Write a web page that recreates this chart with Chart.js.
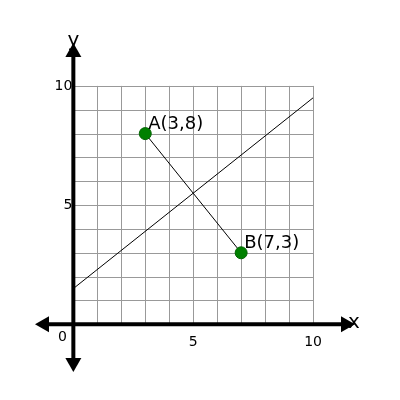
<!DOCTYPE html>
<html>
<head>
<script src="https://cdn.jsdelivr.net/npm/chart.js@4"></script>
<style>html,body{margin:0;padding:0;background:#fff}</style>
</head>
<body>
<canvas id="theChart" width="400" height="400"></canvas>
<script>
let ctx = document.getElementById("theChart").getContext("2d");

const pointNames = ["A(3,8)", "B(7,3)"]
const pointX = [3, 7]
const pointY = [8, 3]
const lineX = [0, 10]
const lineY = [1.5, 9.5]
const tickValues = [5, 10]

// grid, axes with arrows, tick labels
const axesPlugin = {
  id: "axesPlugin",
  beforeDatasetsDraw(chart) {
    const c = chart.ctx, xs = chart.scales.x, ys = chart.scales.y
    const a = chart.chartArea
    c.save()
    c.strokeStyle = "#999"
    c.lineWidth = 1
    for (let i = 0; i <= 10; i++) {
      let px = Math.round(xs.getPixelForValue(i)) + 0.5
      let py = Math.round(ys.getPixelForValue(i)) + 0.5
      c.beginPath(); c.moveTo(px, ys.getPixelForValue(0)); c.lineTo(px, ys.getPixelForValue(10)); c.stroke()
      c.beginPath(); c.moveTo(xs.getPixelForValue(0), py); c.lineTo(xs.getPixelForValue(10), py); c.stroke()
    }
    const ox = xs.getPixelForValue(0), oy = ys.getPixelForValue(0)
    c.strokeStyle = "#000"; c.fillStyle = "#000"; c.lineWidth = 4
    c.beginPath(); c.moveTo(a.left + 8, oy); c.lineTo(a.right - 8, oy); c.stroke()
    c.beginPath(); c.moveTo(ox, a.top + 8); c.lineTo(ox, a.bottom - 8); c.stroke()
    const head = (x, y, dx, dy) => {
      c.beginPath()
      c.moveTo(x, y)
      c.lineTo(x - dx * 14 - dy * 8, y - dy * 14 - dx * 8)
      c.lineTo(x - dx * 14 + dy * 8, y - dy * 14 + dx * 8)
      c.closePath(); c.fill()
    }
    head(a.left, oy, -1, 0); head(a.right, oy, 1, 0)
    head(ox, a.top, 0, -1); head(ox, a.bottom, 0, 1)
    c.font = "14px 'DejaVu Sans', sans-serif"
    c.textAlign = "center"; c.textBaseline = "top"
    tickValues.forEach(v => c.fillText(String(v), xs.getPixelForValue(v), oy + 11))
    c.textAlign = "right"; c.textBaseline = "middle"
    tickValues.forEach(v => c.fillText(String(v), ox - 1, ys.getPixelForValue(v)))
    c.textAlign = "center"; c.textBaseline = "top"
    c.fillText("0", ox - 11, oy + 6)
    c.font = "20px 'DejaVu Sans', sans-serif"
    c.textAlign = "left"; c.textBaseline = "middle"
    c.fillText("x", a.right - 7, oy - 2)
    c.textAlign = "center"
    c.fillText("y", ox, a.top - 2)
    c.restore()
  },
  afterDatasetsDraw(chart) {
    const c = chart.ctx, xs = chart.scales.x, ys = chart.scales.y
    c.save()
    c.font = "18px 'DejaVu Sans', sans-serif"
    c.fillStyle = "#000"; c.textAlign = "left"; c.textBaseline = "alphabetic"
    pointNames.forEach((n, i) => c.fillText(n, xs.getPixelForValue(pointX[i]) + 3, ys.getPixelForValue(pointY[i]) - 5))
    c.restore()
  }
}

let currentChart = new Chart(ctx, {
  type: "scatter",
  data: {
    datasets: [
      {
        data: lineX.map((x, i) => ({ x: x, y: lineY[i] })),
        showLine: true, borderColor: "#000", borderWidth: 1, pointRadius: 0
      },
      {
        data: pointX.map((x, i) => ({ x: x, y: pointY[i] })),
        showLine: true, borderColor: "#000", borderWidth: 1,
        pointRadius: 6, pointBackgroundColor: "#008000", pointBorderColor: "#006400", pointBorderWidth: 1
      }
    ]
  },
  options: {
    responsive: false,
    animation: false,
    layout: { padding: { left: 35, right: 45, top: 43, bottom: 28 } },
    plugins: { legend: { display: false }, tooltip: { enabled: false } },
    scales: {
      x: { display: false, min: -1.6, max: 11.75 },
      y: { display: false, min: -2, max: 11.8 }
    }
  },
  plugins: [axesPlugin]
});
</script>
</body>
</html>
